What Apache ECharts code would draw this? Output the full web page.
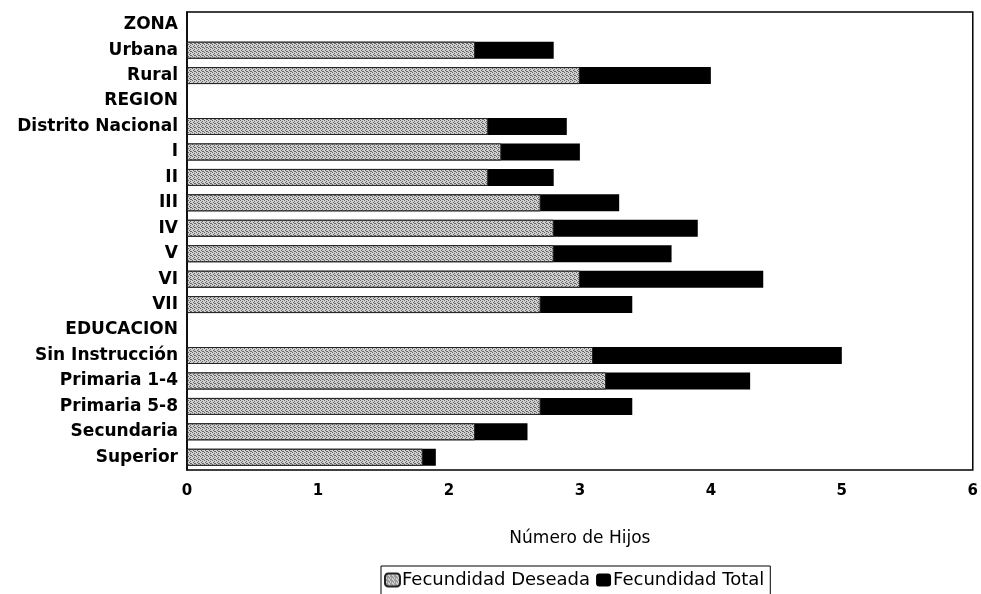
<!DOCTYPE html>
<html><head><meta charset="utf-8">
<script src="https://cdn.jsdelivr.net/npm/echarts@6/dist/echarts.min.js"></script>
<style>html,body{margin:0;padding:0;background:#fff}#c{width:981px;height:594px}</style>
</head><body><div id="c"></div>
<script>
const categories = ['ZONA','Urbana','Rural','REGION','Distrito Nacional','I','II','III','IV','V','VI','VII','EDUCACION','Sin Instrucción','Primaria 1-4','Primaria 5-8','Secundaria','Superior'];
const deseada = [null,2.2,3.0,null,2.3,2.4,2.3,2.7,2.8,2.8,3.0,2.7,null,3.1,3.2,2.7,2.2,1.8];
const total   = [null,2.8,4.0,null,2.9,3.0,2.8,3.3,3.9,3.7,4.4,3.4,null,5.0,4.3,3.4,2.6,1.9];
const seriesNames = ['Fecundidad Deseada','Fecundidad Total'];
const axisTitle = 'Número de Hijos';

const pc = document.createElement('canvas'); pc.width = 4; pc.height = 4;
const g = pc.getContext('2d');
g.fillStyle = '#d0d0d0'; g.fillRect(0,0,4,4);
g.fillStyle = '#666666';
[[0,0],[2,1],[1,2],[3,3],[2,3]].forEach(p => g.fillRect(p[0],p[1],1,1));
const pattern = {image: pc, repeat: 'repeat'};

const font = '"DejaVu Sans", Verdana, sans-serif';
const chart = echarts.init(document.getElementById('c'));
chart.setOption({
  animation: false,
  textStyle: {fontFamily: font, color: '#000'},
  grid: {left: 187, right: 8, top: 12, bottom: 124, show: true, borderColor: '#000', borderWidth: 1.5, containLabel: false},
  legend: {
    data: seriesNames, left: 381, top: 566,
    borderColor: '#000', borderWidth: 1, padding: [5, 6, 8, 3],
    itemWidth: 15, itemHeight: 13, itemGap: 6,
    textStyle: {fontFamily: font, fontSize: 18, color: '#000', padding: [0,0,0,-3]}
  },
  xAxis: {
    type: 'value', min: 0, max: 6, interval: 1,
    name: axisTitle, nameLocation: 'middle', nameGap: 60,
    nameTextStyle: {fontFamily: font, fontSize: 17, color: '#000'},
    axisLine: {show: false}, axisTick: {show: false}, splitLine: {show: false},
    axisLabel: {fontFamily: font, fontSize: 15, fontWeight: 'bold', color: '#000', margin: 14}
  },
  yAxis: {
    type: 'category', data: categories, inverse: true,
    axisLine: {show: true, lineStyle: {color: '#000', width: 1.5}}, axisTick: {show: false},
    axisLabel: {fontFamily: font, fontSize: 17, fontWeight: 'bold', color: '#000', margin: 9}
  },
  series: [
    {name: seriesNames[1], type: 'bar', data: total, barWidth: 17,
     itemStyle: {color: '#000'}},
    {name: seriesNames[0], type: 'bar', data: deseada, barWidth: 17, barGap: '-100%',
     itemStyle: {color: pattern, borderColor: '#222', borderWidth: 1}}
  ]
});
</script></body></html>
